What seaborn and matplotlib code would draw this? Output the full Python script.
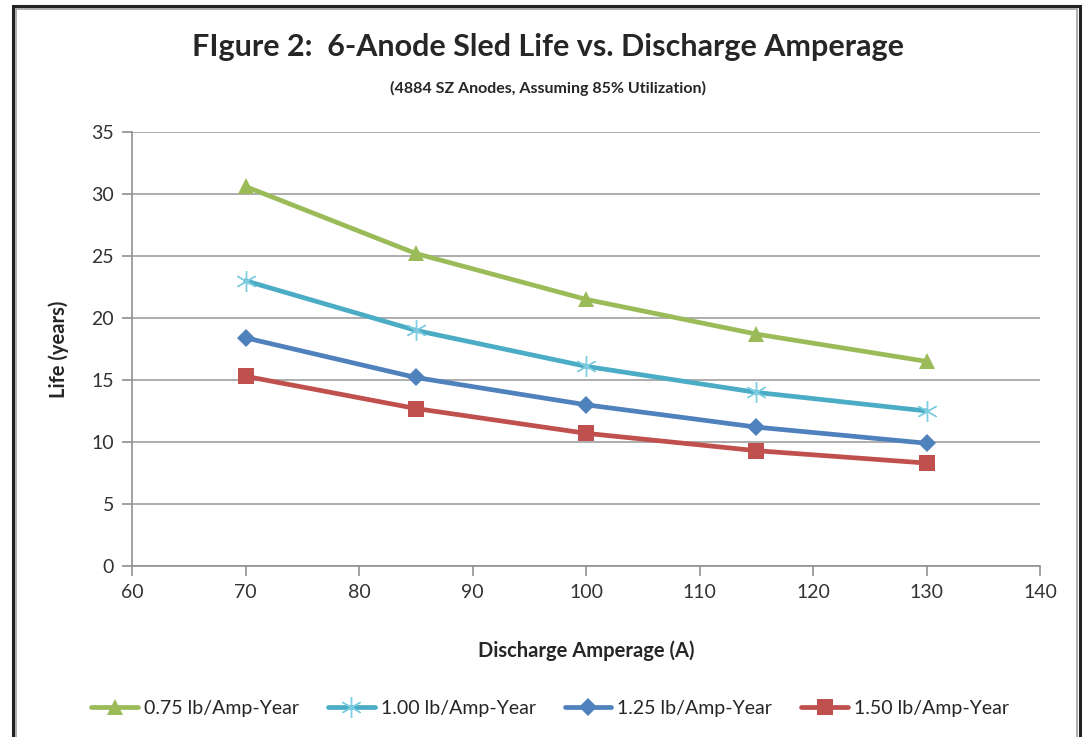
import pandas as pd
import seaborn as sns
import matplotlib.pyplot as plt
from matplotlib.patches import Rectangle

# datos
amperage = [70, 85, 100, 115, 130]
life_075 = [30.6, 25.2, 21.5, 18.7, 16.5]
life_100 = [23.0, 19.0, 16.1, 14.0, 12.5]
life_125 = [18.4, 15.2, 13.0, 11.2, 9.9]
life_150 = [15.3, 12.7, 10.7, 9.3, 8.3]
series_names = ["0.75 lb/Amp-Year", "1.00 lb/Amp-Year", "1.25 lb/Amp-Year", "1.50 lb/Amp-Year"]
x_ticks = [60, 70, 80, 90, 100, 110, 120, 130, 140]
y_ticks = [0, 5, 10, 15, 20, 25, 30, 35]

sns.set_theme(style="white")
plt.rcParams['font.family'] = ['Lato', 'DejaVu Sans']

df = pd.DataFrame({
    "Amperage": amperage * 4,
    "Life": life_075 + life_100 + life_125 + life_150,
    "Series": [s for s in series_names for _ in amperage],
})

colors = ["#9BBB59", "#4BACC6", "#4F81BD", "#C0504D"]
markers = ["^", (6, 2, 0), "D", "s"]
msizes = [12, 15, 9, 12]

fig = plt.figure(figsize=(10.83, 7.37), dpi=100)
ax = fig.add_axes([0.1219, 0.232, 0.9603 - 0.1219, 0.821 - 0.232])

sns.lineplot(data=df, x="Amperage", y="Life", hue="Series",
             palette=colors, linewidth=3.4, ax=ax, legend=False, zorder=3)

# marcadores por serie
for line, m, c, ms in zip(ax.get_lines(), markers, colors, msizes):
    line.set_marker(m)
    line.set_markersize(ms)
    line.set_markerfacecolor(c)
    line.set_markeredgecolor("#7FCDE0" if m == (6, 2, 0) else c)
    line.set_markeredgewidth(1.0 if m == (6, 2, 0) else 0)

ax.set_xlim(60, 140)
ax.set_ylim(0, 35)
ax.set_xticks(x_ticks)
ax.set_yticks(y_ticks)
ax.yaxis.grid(True, color="#A0A0A0", linewidth=1.2)
ax.xaxis.grid(False)
for s in ["top", "right"]:
    ax.spines[s].set_visible(False)
for s in ["left", "bottom"]:
    ax.spines[s].set_color("#909090")
    ax.spines[s].set_linewidth(1.2)
ax.tick_params(axis="both", which="both", direction="out", length=7, width=1.2,
               color="#909090", labelsize=14, labelcolor="#333333", pad=6,
               left=True, bottom=True)

ax.set_xlabel("Discharge Amperage (A)", fontsize=14.5, fontweight="bold", labelpad=28)
ax.set_ylabel("Life (years)", fontsize=14.5, fontweight="bold", labelpad=16)

fig.text(0.506, 0.936, "FIgure 2:  6-Anode Sled Life vs. Discharge Amperage",
         ha="center", va="center", fontsize=22, fontweight="bold")
fig.text(0.506, 0.88, "(4884 SZ Anodes, Assuming 85% Utilization)",
         ha="center", va="center", fontsize=11.5, fontweight="bold")

# leyenda abajo
handles = [plt.Line2D([], [], color=c, marker=m, markersize=ms, linewidth=3.4,
                      markerfacecolor=c,
                      markeredgecolor="#7FCDE0" if m == (6, 2, 0) else c,
                      markeredgewidth=1.0 if m == (6, 2, 0) else 0)
           for c, m, ms in zip(colors, markers, msizes)]
fig.legend(handles, series_names, loc="center", bbox_to_anchor=(0.508, 0.039),
           ncol=4, frameon=False, fontsize=14, handlelength=2.4,
           handletextpad=0.3, columnspacing=1.5)

# marco exterior
fig.patches.append(Rectangle((13 / 1083, -0.01), (1080 - 13) / 1083, 1 - 6 / 737 + 0.01,
                             transform=fig.transFigure, fill=False,
                             edgecolor="#222222", linewidth=2.2))
fig.patches.append(Rectangle((16 / 1083, -0.01), (1077 - 16) / 1083, 1 - 9 / 737 + 0.01,
                             transform=fig.transFigure, fill=False,
                             edgecolor="#A0A0A0", linewidth=1.2))

fig.savefig("out.png", dpi=100)
